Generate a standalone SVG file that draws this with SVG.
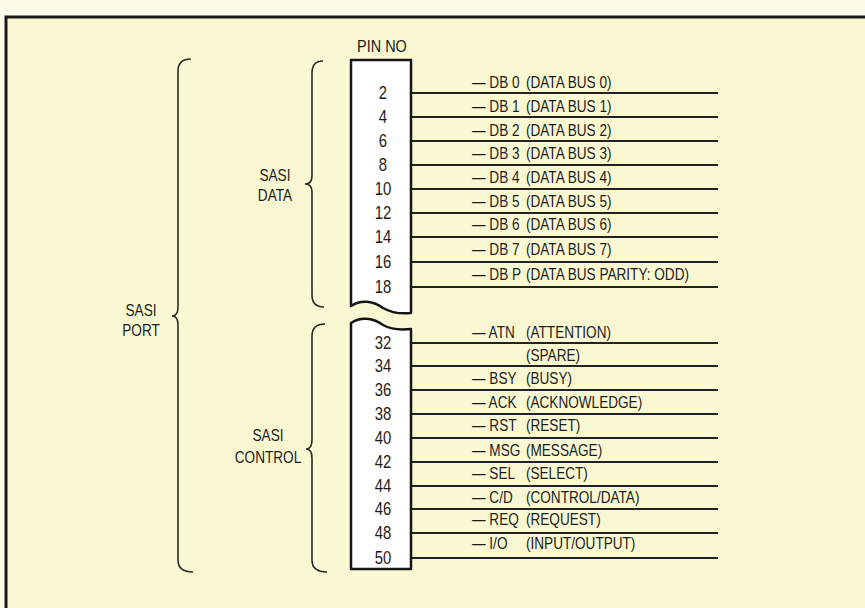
<svg xmlns="http://www.w3.org/2000/svg" width="865" height="608" viewBox="0 0 865 608">
<style>
  text { font-family: "Liberation Sans", Arial, sans-serif; fill: #1c1c1a; }
  .lbl { font-size: 16px; }
  .pin { font-size: 17.5px; text-anchor: middle; }
  .grp { font-size: 16px; text-anchor: middle; }
  .wire { stroke: #222; stroke-width: 1.8; fill: none; }
  .brace { stroke: #2a2a28; stroke-width: 1.6; fill: none; }
  .box { fill: #ffffff; stroke: #151515; stroke-width: 2.5; stroke-linejoin: round; }
</style>
<rect x="0" y="0" width="865" height="608" fill="#fcfce8"/>
<rect id="frame" x="6" y="17" width="900" height="640" fill="#f9f8d3" stroke="#1a1a1a" stroke-width="3"/>

<g id="connector">
  <path class="box" d="M351,60 L411,60 L411,313 C402,314 392,313 383,308 C372,300 360,300 351,306 Z"/>
  <path class="box" d="M351,323 C360,317 372,317 383,325 C392,330 402,330 411,329 L411,569 L351,569 Z"/>
  <g transform="scale(0.85,1)">
  <text x="449.4" y="52" class="pin" style="font-size:17px">PIN NO</text>
  <text x="450.6" y="99.5" class="pin">2</text>
  <text x="450.6" y="123.5" class="pin">4</text>
  <text x="450.6" y="147.5" class="pin">6</text>
  <text x="450.6" y="171.5" class="pin">8</text>
  <text x="450.6" y="195.5" class="pin">10</text>
  <text x="450.6" y="219.5" class="pin">12</text>
  <text x="450.6" y="243.5" class="pin">14</text>
  <text x="450.6" y="268.5" class="pin">16</text>
  <text x="450.6" y="293.5" class="pin">18</text>
  <text x="450.6" y="349.5" class="pin">32</text>
  <text x="450.6" y="372.5" class="pin">34</text>
  <text x="450.6" y="396.5" class="pin">36</text>
  <text x="450.6" y="420.5" class="pin">38</text>
  <text x="450.6" y="444.5" class="pin">40</text>
  <text x="450.6" y="468.5" class="pin">42</text>
  <text x="450.6" y="492.5" class="pin">44</text>
  <text x="450.6" y="515.5" class="pin">46</text>
  <text x="450.6" y="539.5" class="pin">48</text>
  <text x="450.6" y="564.5" class="pin">50</text>
  </g>
</g>

<g id="connectors">
  <path class="wire" d="M411,93H718 M411,117H718 M411,141H718 M411,165H718 M411,189H718 M411,213H718 M411,237H718 M411,262H718 M411,287H718"/>
  <path class="wire" d="M411,343H718 M411,366H718 M411,390H718 M411,414H718 M411,438H718 M411,462H718 M411,486H718 M411,509H718 M411,533H718 M411,558H718"/>
</g>

<g id="signal-labels" transform="scale(0.85,1)">
  <text class="lbl" x="555.3" y="88">— DB 0 <tspan x="618.8">(DATA BUS 0)</tspan></text>
  <text class="lbl" x="555.3" y="112">— DB 1 <tspan x="618.8">(DATA BUS 1)</tspan></text>
  <text class="lbl" x="555.3" y="136">— DB 2 <tspan x="618.8">(DATA BUS 2)</tspan></text>
  <text class="lbl" x="555.3" y="159">— DB 3 <tspan x="618.8">(DATA BUS 3)</tspan></text>
  <text class="lbl" x="555.3" y="183">— DB 4 <tspan x="618.8">(DATA BUS 4)</tspan></text>
  <text class="lbl" x="555.3" y="207">— DB 5 <tspan x="618.8">(DATA BUS 5)</tspan></text>
  <text class="lbl" x="555.3" y="230">— DB 6 <tspan x="618.8">(DATA BUS 6)</tspan></text>
  <text class="lbl" x="555.3" y="255">— DB 7 <tspan x="618.8">(DATA BUS 7)</tspan></text>
  <text class="lbl" x="555.3" y="280">— DB P <tspan x="618.8">(DATA BUS PARITY: ODD)</tspan></text>
  <text class="lbl" x="555.3" y="338">— ATN <tspan x="618.8">(ATTENTION)</tspan></text>
  <text class="lbl" x="618.8" y="361">(SPARE)</text>
  <text class="lbl" x="555.3" y="384">— BSY <tspan x="618.8">(BUSY)</tspan></text>
  <text class="lbl" x="555.3" y="408">— ACK <tspan x="618.8">(ACKNOWLEDGE)</tspan></text>
  <text class="lbl" x="555.3" y="431">— RST <tspan x="618.8">(RESET)</tspan></text>
  <text class="lbl" x="555.3" y="456">— MSG <tspan x="618.8">(MESSAGE)</tspan></text>
  <text class="lbl" x="555.3" y="479">— SEL <tspan x="618.8">(SELECT)</tspan></text>
  <text class="lbl" x="555.3" y="503">— C/D <tspan x="618.8">(CONTROL/DATA)</tspan></text>
  <text class="lbl" x="555.3" y="525">— REQ <tspan x="618.8">(REQUEST)</tspan></text>
  <text class="lbl" x="555.3" y="549">— I/O <tspan x="618.8">(INPUT/OUTPUT)</tspan></text>
</g>

<g id="sasi-data">
  <path class="brace" d="M323,61 Q312,61 312,73 L312,176 Q312,184 305,184 Q312,184 312,192 L312,295 Q312,307 324,307"/>
  <g transform="scale(0.85,1)">
  <text class="grp" x="323.5" y="181">SASI</text>
  <text class="grp" x="323.5" y="201">DATA</text>
  </g>
</g>

<g id="sasi-control">
  <path class="brace" d="M325,324 Q312,324 312,336 L312,440 Q312,449 306,449 Q312,449 312,458 L312,560 Q312,572 327,572"/>
  <g transform="scale(0.85,1)">
  <text class="grp" x="315.3" y="441">SASI</text>
  <text class="grp" x="315.3" y="463">CONTROL</text>
  </g>
</g>

<g id="sasi-port">
  <path class="brace" d="M191,59 Q178,59 178,71 L178,307 Q178,316 172,316 Q178,316 178,325 L178,560 Q178,572 193,572"/>
  <g transform="scale(0.85,1)">
  <text class="grp" x="165.9" y="316">SASI</text>
  <text class="grp" x="165.9" y="336">PORT</text>
  </g>
</g>
</svg>
